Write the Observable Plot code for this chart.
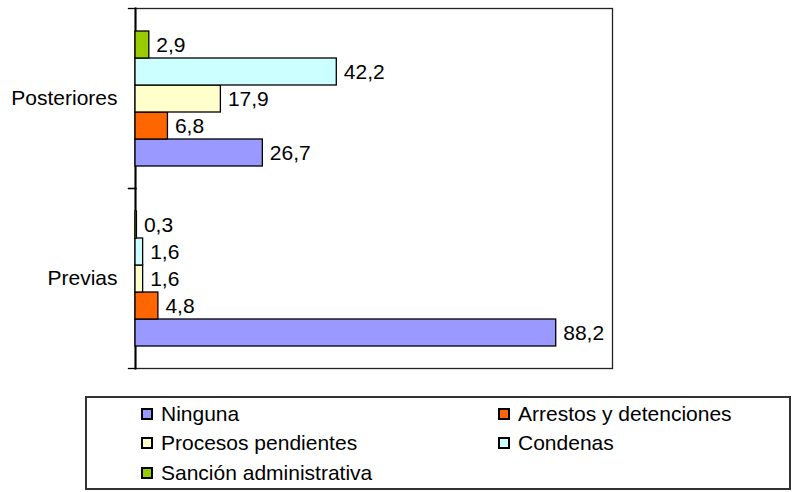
<!DOCTYPE html>
<html>
<head>
<meta charset="utf-8">
<script src="https://cdn.jsdelivr.net/npm/d3@7"></script>
<script src="https://cdn.jsdelivr.net/npm/@observablehq/plot@0.6"></script>
<style>
  html, body { margin: 0; padding: 0; background: #fff; }
  #wrap { position: relative; width: 793px; height: 492px; font-family: "Liberation Sans", Arial, sans-serif; }
  #chart { position: absolute; left: 0; top: 0; }
  #legend {
    position: absolute; left: 85px; top: 396px; width: 706px; height: 94px;
    box-sizing: border-box; border: 2px solid #333; background: #fff;
    display: grid; grid-template-columns: 357px 1fr; grid-auto-rows: 29.5px;
    padding: 1px 0 0 54px; font-size: 21px; color: #000;
  }
  .item { display: flex; align-items: center; white-space: nowrap; }
  .sw { width: 12px; height: 12px; box-sizing: border-box; border: 2px solid #000; margin-right: 8px; flex: none; }
</style>
</head>
<body>
<div id="wrap">
  <div id="chart"></div>
  <div id="legend"></div>
</div>
<script>
// Data
const categories = ["Posteriores", "Previas"];
const series = ["Ninguna", "Arrestos y detenciones", "Procesos pendientes", "Condenas", "Sanción administrativa"];
const colors = ["#9999FF", "#FF6600", "#FFFFCC", "#CCFFFF", "#99CC00"];
const posteriores = [26.7, 6.8, 17.9, 42.2, 2.9];
const previas = [88.2, 4.8, 1.6, 1.6, 0.3];

const valuesByCat = {"Posteriores": posteriores, "Previas": previas};
const table = [];
for (const c of categories) {
  series.forEach((s, i) => table.push({cat: c, series: s, value: valuesByCat[c][i]}));
}
const fmt = v => v.toFixed(1).replace(".", ",");

const W = 793, H = 380;
const mL = 135, mR = 181, mT = 7, mB = 12;
const innerW = W - mL - mR;

const chart = Plot.plot({
  width: W, height: H,
  marginLeft: mL, marginRight: mR, marginTop: mT, marginBottom: mB,
  style: {fontFamily: "Liberation Sans, Arial, sans-serif", fontSize: "21px", color: "#000", background: "transparent"},
  x: {domain: [0, 100], axis: null},
  y: {domain: series.slice().reverse(), paddingInner: 0, paddingOuter: 0.78, axis: null},
  fy: {domain: categories, padding: 0, axis: null},
  color: {domain: series, range: colors},
  marks: [
    Plot.frame({facet: "super", stroke: "#222", strokeWidth: 1.3}),
    Plot.frame({anchor: "left", stroke: "#000", strokeWidth: 2}),
    Plot.frame({anchor: "top", insetLeft: -7, insetRight: innerW, stroke: "#000", strokeWidth: 1.3}),
    Plot.frame({anchor: "bottom", insetLeft: -7, insetRight: innerW, stroke: "#000", strokeWidth: 1.3}),
    Plot.barX(table, {fy: "cat", y: "series", x: "value", fill: "series", stroke: "#000", strokeWidth: 1.3}),
    Plot.text(table, {fy: "cat", y: "series", x: "value", text: d => fmt(d.value), textAnchor: "start", dx: 7, fontSize: 21, fill: "#000"}),
    Plot.axisFy({anchor: "left", tickSize: 0, tickPadding: 18, fontSize: 21, label: null, fill: "#000"})
  ]
});
document.getElementById("chart").appendChild(chart);

// Legend
const legend = document.getElementById("legend");
series.forEach((s, i) => {
  const it = document.createElement("div");
  it.className = "item";
  const sw = document.createElement("span");
  sw.className = "sw";
  sw.style.background = colors[i];
  const tx = document.createElement("span");
  tx.textContent = s;
  it.appendChild(sw); it.appendChild(tx);
  legend.appendChild(it);
});
</script>
</body>
</html>
